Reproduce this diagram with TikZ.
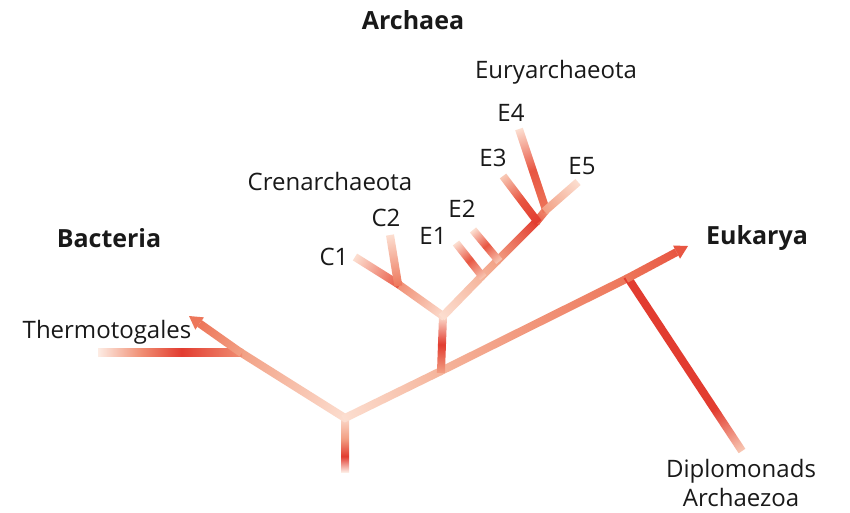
\documentclass[tikz,border=0pt]{standalone}
\usepackage{fontspec}
\setmainfont{Open Sans}
\usetikzlibrary{calc}

% branch colours
\definecolor{cWhite}{RGB}{253,236,228}
\definecolor{cLight}{RGB}{252,222,208}
\definecolor{cPale}{RGB}{248,200,180}
\definecolor{cPeach}{RGB}{245,180,155}
\definecolor{cSalmon}{RGB}{242,160,132}
\definecolor{cCoral}{RGB}{240,142,115}
\definecolor{cOrange}{RGB}{237,118,90}
\definecolor{cFlame}{RGB}{232,86,66}
\definecolor{cRed}{RGB}{226,60,48}

% gradients along a branch: the part from 25bp to 75bp runs from start to end
\pgfdeclarehorizontalshading{gStub}{100bp}{color(0bp)=(cLight); color(25bp)=(cLight); color(45bp)=(cSalmon); color(61bp)=(cRed); color(75bp)=(cWhite); color(100bp)=(cWhite)}
\pgfdeclarehorizontalshading{gRootBac}{100bp}{color(0bp)=(cLight); color(25bp)=(cLight); color(75bp)=(cSalmon); color(100bp)=(cSalmon)}
\pgfdeclarehorizontalshading{gBacArrow}{100bp}{color(0bp)=(cSalmon); color(25bp)=(cSalmon); color(75bp)=(cOrange); color(100bp)=(cOrange)}
\pgfdeclarehorizontalshading{gThermo}{100bp}{color(0bp)=(cCoral); color(25bp)=(cCoral); color(46bp)=(cRed); color(60bp)=(cCoral); color(75bp)=(cWhite); color(100bp)=(cWhite)}
\pgfdeclarehorizontalshading{gRootArc}{100bp}{color(0bp)=(cLight); color(25bp)=(cLight); color(75bp)=(cPeach); color(100bp)=(cPeach)}
\pgfdeclarehorizontalshading{gMain}{100bp}{color(0bp)=(cPeach); color(25bp)=(cPeach); color(75bp)=(cOrange); color(100bp)=(cOrange)}
\pgfdeclarehorizontalshading{gEukArrow}{100bp}{color(0bp)=(cOrange); color(25bp)=(cOrange); color(75bp)=(cFlame); color(100bp)=(cFlame)}
\pgfdeclarehorizontalshading{gDiplo}{100bp}{color(0bp)=(cRed); color(25bp)=(cRed); color(63bp)=(cRed); color(75bp)=(cPale); color(100bp)=(cPale)}
\pgfdeclarehorizontalshading{gStem}{100bp}{color(0bp)=(cSalmon); color(25bp)=(cSalmon); color(50bp)=(cRed); color(75bp)=(cLight); color(100bp)=(cLight)}
\pgfdeclarehorizontalshading{gLightUp}{100bp}{color(0bp)=(cLight); color(25bp)=(cLight); color(75bp)=(cCoral); color(100bp)=(cCoral)}
\pgfdeclarehorizontalshading{gLightPeach}{100bp}{color(0bp)=(cLight); color(25bp)=(cLight); color(75bp)=(cPeach); color(100bp)=(cPeach)}
\pgfdeclarehorizontalshading{gPeachSalmon}{100bp}{color(0bp)=(cPeach); color(25bp)=(cPeach); color(75bp)=(cSalmon); color(100bp)=(cSalmon)}
\pgfdeclarehorizontalshading{gSalmonRed}{100bp}{color(0bp)=(cSalmon); color(25bp)=(cSalmon); color(75bp)=(cRed); color(100bp)=(cRed)}
\pgfdeclarehorizontalshading{gFlameCoral}{100bp}{color(0bp)=(cFlame); color(25bp)=(cFlame); color(75bp)=(cCoral); color(100bp)=(cCoral)}
\pgfdeclarehorizontalshading{gTipDark}{100bp}{color(0bp)=(cFlame); color(25bp)=(cFlame); color(75bp)=(cLight); color(100bp)=(cLight)}
\pgfdeclarehorizontalshading{gTipMid}{100bp}{color(0bp)=(cOrange); color(25bp)=(cOrange); color(75bp)=(cLight); color(100bp)=(cLight)}
\pgfdeclarehorizontalshading{gTipBand}{100bp}{color(0bp)=(cPale); color(25bp)=(cPale); color(50bp)=(cFlame); color(75bp)=(cLight); color(100bp)=(cLight)}
\pgfdeclarehorizontalshading{gTipRed}{100bp}{color(0bp)=(cRed); color(25bp)=(cRed); color(50bp)=(cFlame); color(75bp)=(cPale); color(100bp)=(cPale)}
\pgfdeclarehorizontalshading{gTipE4}{100bp}{color(0bp)=(cOrange); color(25bp)=(cOrange); color(50bp)=(cFlame); color(75bp)=(cLight); color(100bp)=(cLight)}
\pgfdeclarehorizontalshading{gTipPale}{100bp}{color(0bp)=(cSalmon); color(25bp)=(cSalmon); color(75bp)=(cLight); color(100bp)=(cLight)}

% \branch[arrowhead colour]{from}{to}{shading}: a thick shaded bar between two coordinates
\newcommand\branch[4][]{%
  \pgfpointdiff{\pgfpointanchor{#2}{center}}{\pgfpointanchor{#3}{center}}%
  \pgfgetlastxy{\bdx}{\bdy}%
  \pgfmathsetmacro\brang{atan2(\bdy,\bdx)}%
  \pgfmathsetmacro\brlen{veclen(\bdx,\bdy)}%
  \def\brhead{#1}%
  \ifx\brhead\empty
    \begin{scope}[transform canvas={shift={(#2)},rotate=\brang}]
      \shade[shading=#4] (-2pt,-4pt) rectangle (\brlen pt,4pt);
    \end{scope}%
  \else
    \pgfmathsetmacro\brshaft{\brlen-13}%
    \begin{scope}[transform canvas={shift={(#2)},rotate=\brang}]
      \shade[shading=#4] (-2pt,-4pt) rectangle (\brshaft pt,4pt);
      \fill[#1] (\brshaft pt,-7.5pt) -- (\brlen pt,0pt) -- (\brshaft pt,7.5pt) -- cycle;
    \end{scope}%
  \fi}

\tikzset{
  label/.style={inner sep=0pt, font=\fontsize{24}{27}\selectfont, text=black!90},
  group/.style={label, font=\fontsize{25}{27}\selectfont\bfseries},
}

\begin{document}
\begin{tikzpicture}[x=1pt,y=-1pt]
\useasboundingbox[fill=white] (0,0) rectangle (850,512);

% tree junctions and tips
\coordinate (root) at (345,418);
\coordinate (rootEnd) at (345,472);
\coordinate (bacJ) at (240,352);
\coordinate (bacTip) at (189,316);
\coordinate (thermoEnd) at (98,352);
\coordinate (arcJ) at (441,371);
\coordinate (dipJ) at (628,278);
\coordinate (eukTip) at (688,246);
\coordinate (dipEnd) at (742,451);
\coordinate (arcSplit) at (443,316);
\coordinate (crenJ) at (398,284);
\coordinate (c1End) at (355,257);
\coordinate (c2End) at (390,235);
\coordinate (e1J) at (482,276);
\coordinate (e1End) at (456,243);
\coordinate (e2J) at (498,260);
\coordinate (e2End) at (473,230);
\coordinate (e3J) at (537,221);
\coordinate (e3End) at (503,176);
\coordinate (e45J) at (546,210);
\coordinate (e4End) at (519,129);
\coordinate (e5End) at (578,182);

% bacteria
\branch{root}{rootEnd}{gStub}
\branch{root}{bacJ}{gRootBac}
\branch{bacJ}{thermoEnd}{gThermo}
\branch[cOrange]{bacJ}{bacTip}{gBacArrow}

% eukarya
\branch{root}{arcJ}{gRootArc}
\branch{arcJ}{dipJ}{gMain}
\branch{dipJ}{dipEnd}{gDiplo}
\branch[cFlame]{dipJ}{eukTip}{gEukArrow}

% archaea
\branch{arcJ}{arcSplit}{gStem}
\branch{arcSplit}{crenJ}{gLightUp}
\branch{crenJ}{c1End}{gTipDark}
\branch{crenJ}{c2End}{gTipMid}
\branch{arcSplit}{e1J}{gLightPeach}
\branch{e1J}{e2J}{gPeachSalmon}
\branch{e2J}{e3J}{gSalmonRed}
\branch{e3J}{e45J}{gFlameCoral}
\branch{e1J}{e1End}{gTipBand}
\branch{e2J}{e2End}{gTipBand}
\branch{e3J}{e3End}{gTipRed}
\branch{e45J}{e4End}{gTipE4}
\branch{e45J}{e5End}{gTipPale}

% labels
\node[group] (tArchaea) at (413,20) {Archaea};
\node[group] (tBacteria) at (109,238) {Bacteria};
\node[group] (tEukarya) at (757,238) {Eukarya};
\node[label] (tEury) at (556,72) {Euryarchaeota};
\node[label] (tCren) at (330,181) {Crenarchaeota};
\node[label] (tE4) at (511,113) {E4};
\node[label] (tE3) at (493,158) {E3};
\node[label] (tE5) at (582,166) {E5};
\node[label] (tE2) at (462,209) {E2};
\node[label] (tE1) at (433,236) {E1};
\node[label] (tC2) at (386,218) {C2};
\node[label] (tC1) at (334,257) {C1};
\node[label] (tThermo) at (107,332) {Thermotogales};
\node[label] (tDiplo) at (741,471) {Diplomonads};
\node[label] (tArchaezoa) at (741,497) {Archaezoa};
\end{tikzpicture}
\end{document}
